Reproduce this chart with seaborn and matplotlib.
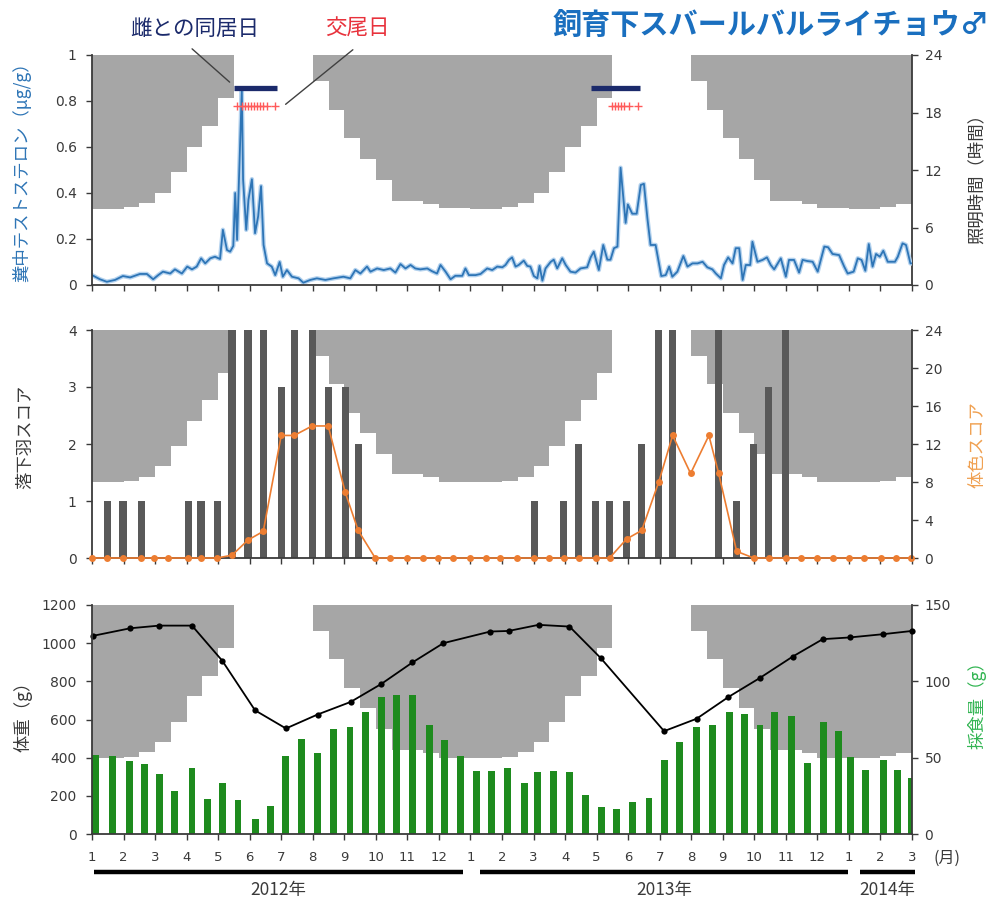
import numpy as np
import matplotlib
matplotlib.use("Agg")
import matplotlib.pyplot as plt
import seaborn as sns

# ---------------------------------------------------------------- data ----
# Time axis in months since 1 Jan 2012 (0 = Jan 2012 ... 26 = Mar 2014)
MONTH_TICKS = list(range(27))
MONTH_LABELS = ["1", "2", "3", "4", "5", "6", "7", "8", "9", "10", "11", "12",
                "1", "2", "3", "4", "5", "6", "7", "8", "9", "10", "11", "12",
                "1", "2", "3"]
YEARS = ["2012年", "2013年", "2014年"]
YEAR_SPANS = [(0.06, 11.75), (12.29, 23.97), (24.35, 26.1)]

# Lighting programme: hours of light per half-month period
LIGHT_HOURS = [
    # 2012
    7.95, 7.95, 8.1, 8.55, 9.65, 11.75, 14.45, 16.6, 19.5, 24, 24, 24,
    24, 24, 21.25, 18.3, 15.3, 13.2, 11.0, 8.8, 8.8, 8.5, 8.0, 8.0,
    # 2013
    7.95, 7.95, 8.1, 8.55, 9.65, 11.75, 14.45, 16.6, 19.5, 24, 24, 24,
    24, 24, 21.25, 18.3, 15.3, 13.2, 11.0, 8.8, 8.8, 8.5, 8.0, 8.0,
    # 2014
    7.95, 7.95, 8.15, 8.5,
]

# Faecal testosterone (ug/g)
T_MONTH = [0.00, 0.25, 0.47, 0.73, 0.98, 1.21, 1.52, 1.74, 1.94, 2.10, 2.25, 2.48,
           2.63, 2.85, 3.02, 3.17, 3.32, 3.46, 3.59, 3.75, 3.90, 4.06, 4.15, 4.28,
           4.38, 4.48, 4.54, 4.60, 4.75, 4.79, 4.89, 4.96, 5.07, 5.17, 5.27, 5.36,
           5.44, 5.55, 5.70, 5.81, 5.95, 6.05, 6.18, 6.34, 6.55, 6.70, 6.92, 7.13,
           7.40, 7.66, 7.97, 8.19, 8.35, 8.51, 8.72, 8.83, 9.04, 9.25, 9.46, 9.62,
           9.78, 9.94, 10.10, 10.25, 10.41, 10.63, 10.78, 10.94, 11.05, 11.21, 11.37, 11.52,
           11.74, 11.84, 11.95, 12.16, 12.32, 12.53, 12.69, 12.85, 13.01, 13.11, 13.22, 13.32,
           13.43, 13.53, 13.69, 13.80, 13.90, 14.01, 14.12, 14.19, 14.28, 14.38, 14.54, 14.64,
           14.75, 14.91, 15.02, 15.17, 15.33, 15.49, 15.70, 15.81, 15.91, 16.07, 16.21, 16.34,
           16.44, 16.55, 16.66, 16.76, 16.92, 16.99, 17.13, 17.27, 17.40, 17.50, 17.61, 17.71,
           17.87, 18.05, 18.19, 18.30, 18.40, 18.56, 18.75, 18.88, 19.04, 19.20, 19.36, 19.51,
           19.67, 19.78, 19.94, 20.04, 20.17, 20.31, 20.41, 20.52, 20.63, 20.73, 20.87, 20.94,
           21.10, 21.26, 21.40, 21.52, 21.63, 21.84, 22.00, 22.10, 22.26, 22.42, 22.53, 22.69,
           22.85, 23.01, 23.22, 23.34, 23.48, 23.69, 23.85, 23.96, 24.15, 24.28, 24.40, 24.52,
           24.63, 24.75, 24.86, 24.98, 25.09, 25.23, 25.36, 25.46, 25.55, 25.70, 25.81, 25.95,
           26.00]
T_VALUE = [0.043, 0.025, 0.014, 0.022, 0.039, 0.033, 0.048, 0.048, 0.025, 0.043, 0.058, 0.050,
           0.068, 0.050, 0.080, 0.068, 0.080, 0.116, 0.094, 0.116, 0.123, 0.113, 0.240, 0.152,
           0.145, 0.170, 0.400, 0.196, 0.850, 0.460, 0.240, 0.370, 0.460, 0.225, 0.300, 0.430,
           0.174, 0.094, 0.080, 0.043, 0.100, 0.036, 0.065, 0.036, 0.029, 0.010, 0.022, 0.029,
           0.022, 0.029, 0.036, 0.029, 0.065, 0.050, 0.080, 0.058, 0.072, 0.065, 0.072, 0.054,
           0.091, 0.072, 0.087, 0.072, 0.068, 0.072, 0.060, 0.050, 0.087, 0.058, 0.025, 0.040,
           0.040, 0.072, 0.043, 0.043, 0.048, 0.072, 0.065, 0.080, 0.077, 0.087, 0.109, 0.120,
           0.080, 0.087, 0.106, 0.083, 0.080, 0.039, 0.029, 0.083, 0.019, 0.072, 0.100, 0.110,
           0.072, 0.116, 0.087, 0.058, 0.054, 0.072, 0.077, 0.120, 0.145, 0.065, 0.174, 0.110,
           0.110, 0.160, 0.167, 0.510, 0.270, 0.350, 0.310, 0.310, 0.435, 0.440, 0.290, 0.174,
           0.174, 0.039, 0.043, 0.080, 0.036, 0.058, 0.126, 0.080, 0.094, 0.094, 0.101, 0.077,
           0.068, 0.050, 0.029, 0.087, 0.120, 0.094, 0.160, 0.160, 0.022, 0.087, 0.087, 0.188,
           0.101, 0.109, 0.120, 0.087, 0.068, 0.116, 0.036, 0.109, 0.109, 0.054, 0.109, 0.104,
           0.101, 0.058, 0.167, 0.164, 0.135, 0.130, 0.080, 0.050, 0.058, 0.116, 0.109, 0.062,
           0.178, 0.080, 0.135, 0.123, 0.149, 0.101, 0.101, 0.101, 0.123, 0.181, 0.174, 0.094,
           0.094]

# Days housed with a female (start, end) and mating days
COHAB = [(4.51, 5.87), (15.81, 17.37)]
MATING = [4.60, 4.76, 4.86, 4.95, 5.05, 5.14, 5.24, 5.33, 5.43, 5.56, 5.81,
          16.48, 16.57, 16.67, 16.76, 16.86, 17.02, 17.30]

# Moult: dropped-feather score and body-colour score
MOLT_MONTH = [0.00, 0.48, 0.98, 1.56, 1.97, 2.41, 3.05, 3.46, 3.97, 4.44, 4.95, 5.43,
              6.00, 6.41, 6.98, 7.49, 8.03, 8.44, 8.98, 9.46, 10.00, 10.48, 10.98, 11.46,
              12.00, 12.48, 12.95, 13.49, 14.03, 14.48, 14.95, 15.43, 15.97, 16.41, 16.95, 17.43,
              17.97, 18.41, 18.98, 19.56, 19.87, 20.44, 20.98, 21.46, 22.00, 22.48, 22.98, 23.49,
              23.99, 24.48, 25.02, 25.49, 25.97]
FEATHER_SCORE = [0, 1, 1, 1, 0, 0, 1, 1, 1, 4, 4, 4,
                 3, 4, 4, 3, 3, 2, 0, 0, 0, 0, 0, 0,
                 0, 0, 0, 0, 1, 0, 1, 2, 1, 1, 1, 2,
                 4, 4, 0, 0, 4, 1, 2, 3, 4, 0, 0, 0,
                 0, 0, 0, 0, 0]
COLOR_SCORE = [0, 0, 0, 0, 0, 0, 0, 0, 0, 0.3, 1.9, 2.8,
               12.9, 12.9, 13.9, 13.9, 6.9, 2.9, 0, 0, 0, 0, 0, 0,
               0, 0, 0, 0, 0, 0, 0, 0, 0, 0, 2.0, 2.9,
               8.0, 12.9, 8.9, 12.9, 8.9, 0.7, 0, 0, 0, 0, 0, 0,
               0, 0, 0, 0, 0]

# Body mass (g)
WEIGHT_MONTH = [0.02, 1.21, 2.13, 3.17, 4.13, 5.17, 6.15, 7.15, 8.20, 9.17, 10.16, 11.14,
                12.63, 13.21, 14.16, 15.14, 16.13, 18.14, 19.17, 20.18, 21.17, 22.22, 23.17,
                24.03, 25.08, 26.00]
WEIGHT_G = [1038, 1078, 1092, 1092, 908, 648, 553, 626, 692, 786, 899, 1000,
            1061, 1064, 1096, 1087, 922, 539, 604, 718, 817, 930, 1021,
            1030, 1047, 1064]

# Food intake (g) per half-month period
FEED_MONTH = [0.10, 0.64, 1.20, 1.67, 2.13, 2.63, 3.17, 3.65, 4.14, 4.63, 5.17, 5.66,
              6.14, 6.64, 7.15, 7.65, 8.18, 8.66, 9.17, 9.66, 10.17, 10.69, 11.17, 11.67,
              12.20, 12.68, 13.18, 13.71, 14.14, 14.63, 15.15, 15.65, 16.15, 16.63, 17.15, 17.66,
              18.14, 18.64, 19.17, 19.67, 20.20, 20.68, 21.18, 21.65, 22.19, 22.69, 23.18, 23.67,
              24.06, 24.54, 25.10, 25.55, 25.97]
FEED_G = [51.5, 51, 47.6, 45.7, 39, 28.3, 43.5, 23, 33.7, 22.2, 9.6, 18.5,
          50.9, 62.4, 53.3, 68.9, 70.4, 80.2, 89.6, 91.3, 91.3, 71.5, 61.3, 51,
          41, 41, 43.5, 33.7, 40.7, 41.3, 40.7, 25.4, 17.4, 16.3, 21.1, 23.3,
          48.7, 60.2, 70.4, 71.5, 79.8, 78.7, 71.5, 79.8, 77, 46.5, 73.3, 67.2,
          50.4, 42.2, 48.3, 42.2, 37]

# ---------------------------------------------------------------- style ---
sns.set_theme(style="ticks")
plt.rcParams['font.family'] = ['DejaVu Sans', 'Noto Sans CJK JP']
JP = ['Noto Sans CJK JP', 'DejaVu Sans']

GREY = '#a6a6a6'
AXC = '#3a3a3a'
BLUE = '#2e75b6'
ORANGE = '#ed7d31'
GREEN = '#1e8b1e'
NAVY = '#1b2a6b'

W_PX, H_PX = 993, 901
fig = plt.figure(figsize=(W_PX / 100, H_PX / 100), dpi=100)
fig.patch.set_facecolor('white')


def fx(x):
    return x / W_PX


def fy(y):
    return 1 - y / H_PX


light_edges = np.arange(len(LIGHT_HOURS) + 1) * 0.5
light_step = LIGHT_HOURS + [LIGHT_HOURS[-1]]


def make_panel(top, bottom, main_z, twin_z):
    r = [fx(92), fy(bottom), 820 / W_PX, (bottom - top) / H_PX]
    bg = fig.add_axes(r, zorder=0)
    bg.set_xlim(0, 26)
    bg.set_ylim(0, 24)
    bg.axis('off')
    bg.fill_between(light_edges, light_step, 24, step='post', color=GREY, linewidth=0)

    ax = fig.add_axes(r, zorder=main_z)
    ax.patch.set_visible(False)
    axr = ax.twinx()
    axr.set_zorder(twin_z)
    axr.patch.set_visible(False)
    for a in (ax, axr):
        a.set_xlim(0, 26)
        for s in a.spines.values():
            s.set_visible(False)
            s.set_color(AXC)
            s.set_linewidth(1.3)
    ax.spines['left'].set_visible(True)
    ax.spines['bottom'].set_visible(True)
    axr.spines['right'].set_visible(True)
    ax.set_xticks(MONTH_TICKS)
    ax.tick_params(axis='x', direction='out', length=4, width=1, colors=AXC,
                   labelbottom=False)
    ax.tick_params(axis='y', direction='out', length=4, width=1, colors=AXC,
                   labelsize=10, pad=7)
    axr.tick_params(axis='y', direction='out', length=4, width=1, colors=AXC,
                    labelsize=10, pad=5)
    return ax, axr


# ---- testosterone ----
ax1, ax1r = make_panel(55, 285, 2, 1)
sns.lineplot(x=T_MONTH, y=T_VALUE, ax=ax1, color='#b4d2ee', linewidth=3.2)
sns.lineplot(x=T_MONTH, y=T_VALUE, ax=ax1, color=BLUE, linewidth=1.3)
ax1.set_ylim(0, 1)
ax1.set_yticks([0, 0.2, 0.4, 0.6, 0.8, 1.0])
ax1.set_yticklabels(['0', '0.2', '0.4', '0.6', '0.8', '1'])
ax1r.set_ylim(0, 24)
ax1r.set_yticks([0, 6, 12, 18, 24])
for s, e in COHAB:
    ax1.plot([s, e], [0.855, 0.855], color=NAVY, linewidth=3.8, solid_capstyle='butt')
ax1.plot(MATING, [0.778] * len(MATING), linestyle='none', marker='+',
         color='#ff5a5a', markersize=6, markeredgewidth=1)
ax1.annotate('', xy=(4.43, 0.874), xycoords='data',
             xytext=(fx(190), fy(47)), textcoords='figure fraction',
             arrowprops=dict(arrowstyle='-', color='#404040', linewidth=1))
ax1.annotate('', xy=(6.07, 0.778), xycoords='data',
             xytext=(fx(355), fy(48)), textcoords='figure fraction',
             arrowprops=dict(arrowstyle='-', color='#404040', linewidth=1))
fig.text(fx(195), fy(29), '雌との同居日', family=JP, fontsize=15.5,
         color=NAVY, ha='center', va='center')
fig.text(fx(357), fy(29), '交尾日', family=JP, fontsize=15.5,
         color='#e8323c', ha='center', va='center')
fig.text(fx(989), fy(25), '飼育下スバールバルライチョウ♂', family=JP, fontsize=21,
         fontweight='bold', color='#1a6fbf', ha='right', va='center')
fig.text(fx(22), fy(168), '糞中テストステロン（μg/g）', family=JP, fontsize=12.5,
         color=BLUE, rotation=90, ha='center', va='center')
fig.text(fx(977), fy(175), '照明時間（時間）', family=JP, fontsize=12.5,
         color=AXC, rotation=90, ha='center', va='center')

# ---- moult ----
ax2, ax2r = make_panel(330, 558, 1, 2)
ax2.bar(MOLT_MONTH, FEATHER_SCORE, width=0.23, color='#595959', linewidth=0)
sns.lineplot(x=MOLT_MONTH, y=COLOR_SCORE, ax=ax2r, color=ORANGE, linewidth=1.2,
             marker='o', markersize=5, markeredgewidth=0, clip_on=False)
ax2.set_ylim(0, 4)
ax2.set_yticks([0, 1, 2, 3, 4])
ax2r.set_ylim(0, 24)
ax2r.set_yticks([0, 4, 8, 12, 16, 20, 24])
fig.text(fx(25), fy(437), '落下羽スコア', family=JP, fontsize=12.5,
         color=AXC, rotation=90, ha='center', va='center')
fig.text(fx(977), fy(445), '体色スコア', family=JP, fontsize=12.5,
         color='#f0a050', rotation=90, ha='center', va='center')

# ---- body mass & food intake ----
ax3, ax3r = make_panel(605, 834, 2, 1)
ax3r.bar(FEED_MONTH, FEED_G, width=0.22, color=GREEN, linewidth=0)
sns.lineplot(x=WEIGHT_MONTH, y=WEIGHT_G, ax=ax3, color='black', linewidth=1.3,
             marker='o', markersize=4.5, markeredgewidth=0, clip_on=False)
ax3.set_ylim(0, 1200)
ax3.set_yticks([0, 200, 400, 600, 800, 1000, 1200])
ax3r.set_ylim(0, 150)
ax3r.set_yticks([0, 50, 100, 150])
ax3.tick_params(axis='x', labelbottom=True, labelsize=9.5, pad=8)
ax3.set_xticklabels(MONTH_LABELS)
fig.text(fx(23), fy(712), '体重（g）', family=JP, fontsize=12.5,
         color=AXC, rotation=90, ha='center', va='center')
fig.text(fx(977), fy(701), '採食量（g）', family=JP, fontsize=12.5,
         color='#33b553', rotation=90, ha='center', va='center')
fig.text(fx(947), fy(858), '(月)', family=JP, fontsize=11.5, color=AXC,
         ha='center', va='center')

trans = ax3.get_xaxis_transform()
for label, (s, e) in zip(YEARS, YEAR_SPANS):
    ax3.plot([s, e], [-0.166, -0.166], transform=trans, clip_on=False,
             color='black', linewidth=3.2, solid_capstyle='butt')
    ax3.text((s + e) / 2, -0.245, label, transform=trans, family=JP,
             fontsize=12.5, color=AXC, ha='center', va='center')

fig.savefig('out.png', dpi=100)
